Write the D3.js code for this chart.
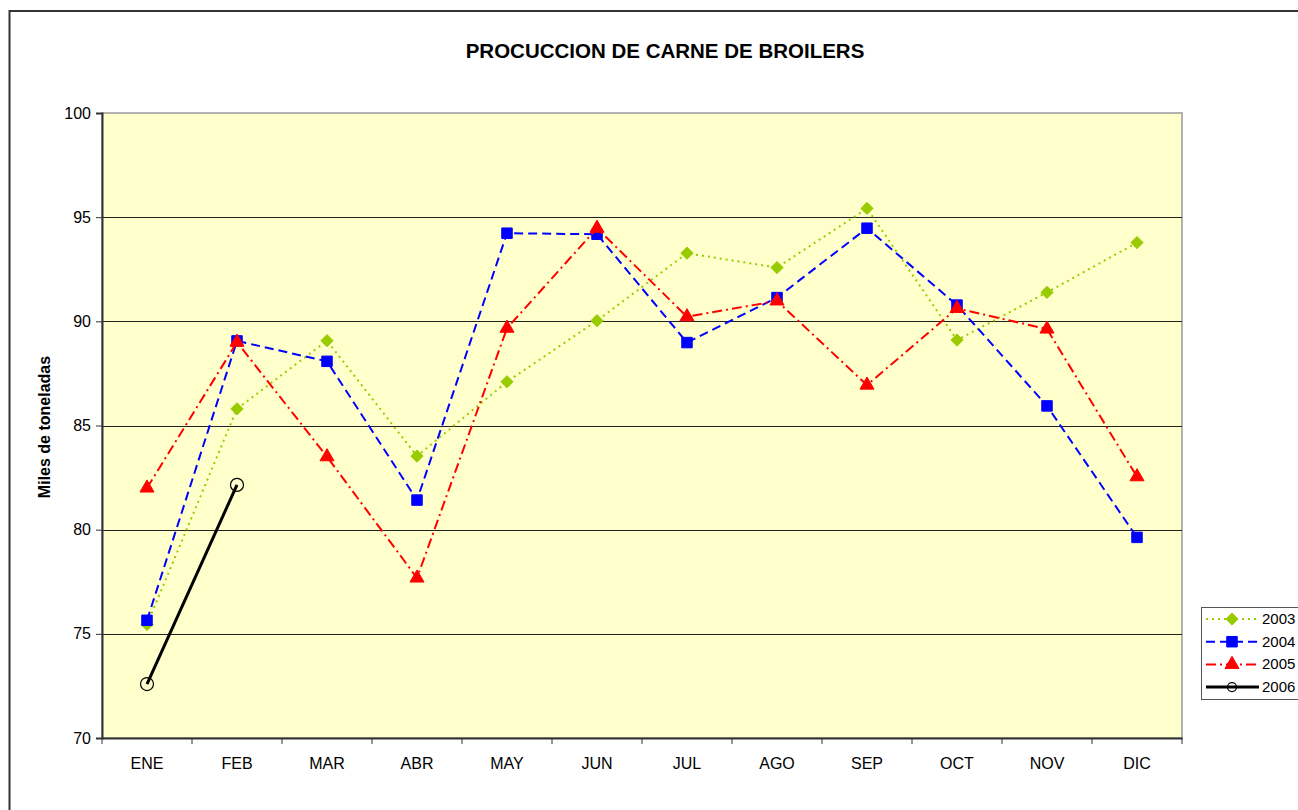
<!DOCTYPE html>
<html>
<head>
<meta charset="utf-8">
<script src="https://cdn.jsdelivr.net/npm/d3@7"></script>
<style>
  body { margin: 0; background: #fff; }
  svg { display: block; font-family: "Liberation Sans", Arial, sans-serif; }
</style>
</head>
<body>
<script>
// chart data
const months = ['ENE', 'FEB', 'MAR', 'ABR', 'MAY', 'JUN', 'JUL', 'AGO', 'SEP', 'OCT', 'NOV', 'DIC'];
const years = ['2003', '2004', '2005', '2006'];
const values2003 = [75.45, 85.8, 89.07, 83.53, 87.1, 90.03, 93.27, 92.58, 95.42, 89.1, 91.39, 93.78];
const values2004 = [75.65, 89.06, 88.08, 81.42, 94.23, 94.18, 88.98, 91.14, 94.47, 90.78, 85.94, 79.63];
const values2005 = [82.0, 89.0, 83.5, 77.68, 89.67, 94.47, 90.22, 90.98, 86.94, 90.62, 89.63, 82.54];
const values2006 = [72.59, 82.15];
const yTicks = [70, 75, 80, 85, 90, 95, 100];

const W = 1298, H = 810;
const plot = { left: 102, top: 113, right: 1182, bottom: 738 };

const svg = d3.select('body').append('svg')
  .attr('width', W)
  .attr('height', H);

// outer chart frame
svg.append('rect')
  .attr('x', 9.5).attr('y', 11)
  .attr('width', 1320).attr('height', 840)
  .attr('fill', '#fff')
  .attr('stroke', '#333')
  .attr('stroke-width', 2);

svg.append('text')
  .attr('x', 665)
  .attr('y', 58)
  .attr('text-anchor', 'middle')
  .attr('font-size', 20.5)
  .attr('font-weight', 'bold')
  .text('PROCUCCION DE CARNE DE BROILERS');

const x = d3.scaleBand()
  .domain(months)
  .range([plot.left, plot.right]);

const y = d3.scaleLinear()
  .domain([70, 100])
  .range([plot.bottom, plot.top]);

// plot area
svg.append('rect')
  .attr('x', plot.left)
  .attr('y', plot.top)
  .attr('width', plot.right - plot.left)
  .attr('height', plot.bottom - plot.top)
  .attr('fill', '#FFFFCC')
  .attr('stroke', '#999')
  .attr('stroke-width', 1.5);

// gridlines
svg.append('g')
  .selectAll('line')
  .data(yTicks.filter((d) => d > 70 && d < 100))
  .enter()
  .append('line')
  .attr('x1', plot.left)
  .attr('x2', plot.right)
  .attr('y1', (d) => Math.round(y(d)) + 0.5)
  .attr('y2', (d) => Math.round(y(d)) + 0.5)
  .attr('stroke', '#222')
  .attr('stroke-width', 1);

// y axis
const yAxis = d3.axisLeft(y)
  .tickValues(yTicks)
  .tickSize(6)
  .tickPadding(5);

const gy = svg.append('g')
  .attr('transform', 'translate(' + plot.left + ',0)')
  .call(yAxis);
gy.select('.domain').attr('stroke', '#333').attr('stroke-width', 2);
gy.selectAll('.tick line').attr('stroke', '#333');
gy.selectAll('.tick text').attr('font-size', 16).attr('fill', '#000')
  .attr('font-family', '"Liberation Sans", Arial, sans-serif');

// x axis: ticks on category boundaries
const xAxis = d3.axisBottom(x).tickSize(0).tickPadding(20);
const gx = svg.append('g')
  .attr('transform', 'translate(0,' + plot.bottom + ')')
  .call(xAxis);
gx.select('.domain').attr('stroke', '#333').attr('stroke-width', 2);
gx.selectAll('.tick text').attr('font-size', 16).attr('fill', '#000')
  .attr('font-family', '"Liberation Sans", Arial, sans-serif');
gx.append('g')
  .selectAll('line')
  .data(months.concat(['end']))
  .enter()
  .append('line')
  .attr('x1', (d, i) => plot.left + i * x.bandwidth())
  .attr('x2', (d, i) => plot.left + i * x.bandwidth())
  .attr('y1', 0)
  .attr('y2', 6)
  .attr('stroke', '#333');

svg.append('text')
  .attr('transform', 'translate(50,' + 427 + ') rotate(-90)')
  .attr('text-anchor', 'middle')
  .attr('font-size', 16)
  .attr('font-weight', 'bold')
  .text('Miles de toneladas');

// series
const series = [
  { name: years[0], values: values2003, color: '#99CC00', dash: '2,4', width: 2, marker: 'diamond' },
  { name: years[1], values: values2004, color: '#0000FF', dash: '9,5', width: 2, marker: 'square' },
  { name: years[2], values: values2005, color: '#FF0000', dash: '10,4,2,4', width: 2, marker: 'triangle' },
  { name: years[3], values: values2006, color: '#000000', dash: null, width: 3, marker: 'circle' }
];

const line = d3.line()
  .x((d, i) => x(months[i]) + x.bandwidth() / 2)
  .y((d) => y(d));

const symbols = {
  diamond: d3.symbol().type(d3.symbolDiamond2).size(95),
  square: d3.symbol().type(d3.symbolSquare).size(110),
  triangle: d3.symbol().type(d3.symbolTriangle).size(85)
};

function drawMarker(g, type, color, cx, cy, r) {
  if (type === 'circle') {
    g.append('circle')
      .attr('cx', cx).attr('cy', cy).attr('r', r || 6.5)
      .attr('fill', 'none')
      .attr('stroke', '#000')
      .attr('stroke-width', 1.2);
  } else {
    g.append('path')
      .attr('d', symbols[type]())
      .attr('transform', 'translate(' + cx + ',' + cy + ')')
      .attr('fill', color)
      .attr('stroke', color)
      .attr('stroke-width', 1);
  }
}

series.forEach((s) => {
  const g = svg.append('g');
  g.append('path')
    .datum(s.values)
    .attr('d', line)
    .attr('fill', 'none')
    .attr('stroke', s.color)
    .attr('stroke-width', s.width)
    .attr('stroke-dasharray', s.dash);
  s.values.forEach((v, i) => {
    drawMarker(g, s.marker, s.color, x(months[i]) + x.bandwidth() / 2, y(v));
  });
});

// legend
const legend = svg.append('g').attr('transform', 'translate(1201,607)');
legend.append('rect')
  .attr('x', 0.5).attr('y', 0.5)
  .attr('width', 120).attr('height', 92)
  .attr('fill', '#fff')
  .attr('stroke', '#555')
  .attr('stroke-width', 1);

series.forEach((s, i) => {
  const ly = 12 + i * 22.7;
  legend.append('line')
    .attr('x1', 5).attr('x2', 58)
    .attr('y1', ly).attr('y2', ly)
    .attr('stroke', s.color)
    .attr('stroke-width', s.width)
    .attr('stroke-dasharray', s.dash);
  drawMarker(legend, s.marker, s.color, 31, ly, 4.5);
  legend.append('text')
    .attr('x', 61)
    .attr('y', ly + 5)
    .attr('font-size', 15)
    .text(s.name);
});
</script>
</body>
</html>
